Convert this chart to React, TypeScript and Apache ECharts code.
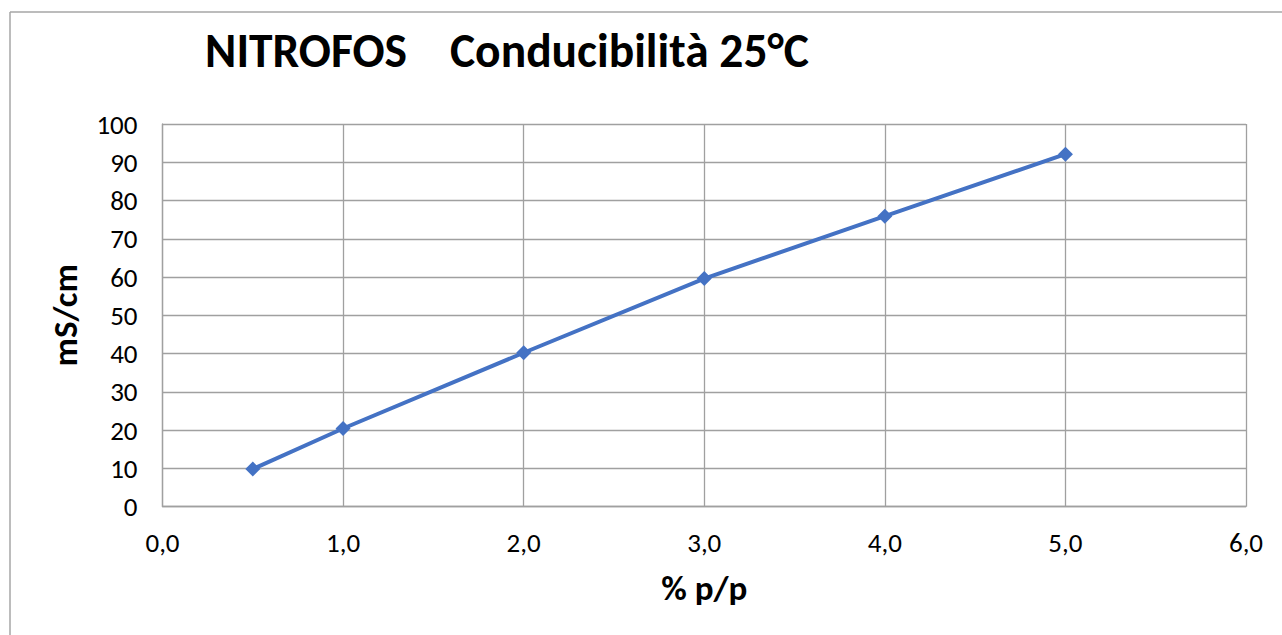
import React, { useEffect, useRef } from "react";
import * as echarts from "echarts";

const concentrations = [0.5, 1.0, 2.0, 3.0, 4.0, 5.0];
const conductivity = [9.8, 20.4, 40.2, 59.6, 75.9, 92.1];
const titleText = "NITROFOS    Conducibilità 25°C";
const xAxisName = "% p/p";
const yAxisName = "mS/cm";

const FONT = "Carlito, Calibri, Lato, sans-serif";
const GRID_COLOR = "#a0a0a0";

export default function App() {
  const ref = useRef<HTMLDivElement>(null);
  useEffect(() => {
    if (!ref.current) return;
    const chart = echarts.init(ref.current, undefined, { renderer: "svg" });
    chart.setOption({
      animation: false,
      backgroundColor: "#ffffff",
      title: {
        text: titleText,
        left: 502,
        top: 22,
        textAlign: "center",
        textStyle: { fontFamily: FONT, fontWeight: "bold", fontSize: 47.5, color: "#000" },
      },
      graphic: [
        { type: "line", shape: { x1: 10, y1: 12, x2: 1282, y2: 12 }, style: { stroke: "#a6a6a6", lineWidth: 1.5 } },
        { type: "line", shape: { x1: 10, y1: 12, x2: 10, y2: 635 }, style: { stroke: "#a6a6a6", lineWidth: 1.5 } },
      ],
      grid: { left: 162.5, right: 36, top: 124, bottom: 128.5, containLabel: false },
      xAxis: {
        type: "value",
        min: 0,
        max: 6,
        interval: 1,
        name: xAxisName,
        nameLocation: "middle",
        nameGap: 64,
        nameTextStyle: { fontFamily: FONT, fontWeight: "bold", fontSize: 35, color: "#000" },
        axisLine: { show: true, lineStyle: { color: GRID_COLOR, width: 1.3 } },
        axisTick: { show: false },
        axisLabel: {
          margin: 22,
          fontFamily: FONT,
          fontSize: 27,
          color: "#000",
          formatter: (v: number) => v.toFixed(1).replace(".", ","),
        },
        splitLine: { show: true, lineStyle: { color: GRID_COLOR, width: 1.3 } },
      },
      yAxis: {
        type: "value",
        min: 0,
        max: 100,
        interval: 10,
        name: yAxisName,
        nameLocation: "middle",
        nameGap: 80,
        nameTextStyle: { fontFamily: FONT, fontWeight: "bold", fontSize: 35, color: "#000" },
        axisLine: { show: true, lineStyle: { color: GRID_COLOR, width: 1.3 } },
        axisTick: { show: false },
        axisLabel: { margin: 25, fontFamily: FONT, fontSize: 27, color: "#000" },
        splitLine: { show: true, lineStyle: { color: GRID_COLOR, width: 1.3 } },
      },
      series: [
        {
          type: "line",
          data: concentrations.map((x, i) => [x, conductivity[i]]),
          symbol: "diamond",
          symbolSize: 15,
          itemStyle: { color: "#4472C4" },
          lineStyle: { color: "#4472C4", width: 4 },
        },
      ],
    });
    return () => chart.dispose();
  }, []);
  return (
    <div
      ref={ref}
      style={{ position: "absolute", left: 0, top: 0, width: 1282, height: 635, background: "#fff" }}
    />
  );
}
